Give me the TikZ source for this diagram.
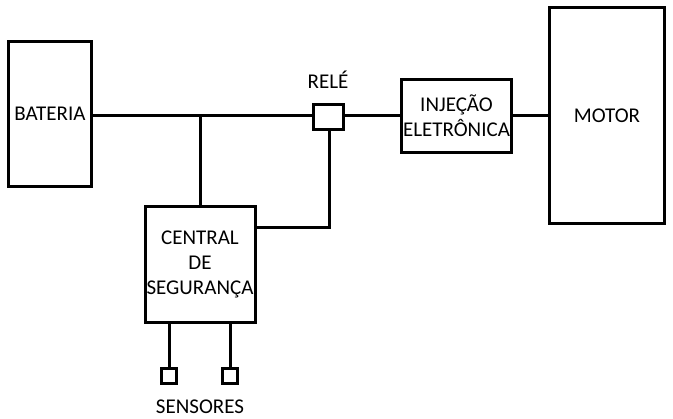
\documentclass[tikz,border=0pt]{standalone}
\usepackage{fontspec}
\setmainfont{Carlito}
\begin{document}
\begin{tikzpicture}[x=1pt,y=-1pt,
  blk/.style={draw=black,line width=3pt,rectangle,inner sep=0pt,align=center,font=\fontsize{21}{25}\selectfont},
  wire/.style={draw=black,line width=3pt},
  lbl/.style={inner sep=0pt,font=\fontsize{21}{25}\selectfont}]
\useasboundingbox[fill=white] (0,0) rectangle (673,419);
\node[blk,minimum width=83pt,minimum height=145pt] (bat) at (50,114) {BATERIA};
\node[blk,minimum width=115pt,minimum height=216pt] (mot) at (607,115.5) {MOTOR};
\node[blk,minimum width=110pt,minimum height=73pt] (inj) at (456.5,116) {INJEÇÃO\\ELETRÔNICA};
\node[blk,minimum width=30pt,minimum height=25pt] (rel) at (328.5,117) {};
\node[lbl] (rell) at (328,80) {RELÉ};
\node[blk,minimum width=110pt,minimum height=116pt] (cen) at (200,264.5) {CENTRAL\\DE\\SEGURANÇA};
\node[blk,minimum width=15pt,minimum height=15pt] (s1) at (169,376) {};
\node[blk,minimum width=15pt,minimum height=15pt] (s2) at (230,376) {};
\node[lbl] (sens) at (200,407) {SENSORES};
\coordinate (j) at (200,116);
\coordinate (k) at (329,228);
\draw[wire] (bat.east |- j) -- (j) -- (j -| rel.west);
\draw[wire] (j) -- (cen.north);
\draw[wire] (j -| rel.east) -- (inj.west |- j);
\draw[wire] (inj.east |- j) -- (mot.west |- j);
\draw[wire] (k |- rel.south) -- (k) -- (k -| cen.east);
\draw[wire] (s1 |- cen.south) -- (s1.north);
\draw[wire] (s2 |- cen.south) -- (s2.north);
\end{tikzpicture}
\end{document}
